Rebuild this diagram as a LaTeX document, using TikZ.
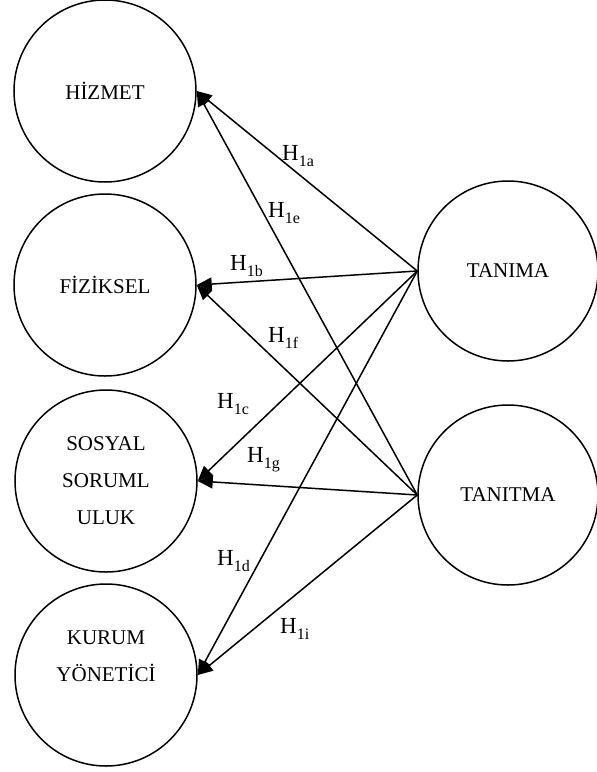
\documentclass[tikz,border=0pt]{standalone}
\usepackage{fontspec}
\setmainfont{Liberation Serif}
\usetikzlibrary{arrows.meta}
\newcommand\hyp[1]{H\raisebox{-0.28em}{\fontsize{16}{16}\selectfont #1}}
\tikzset{
  construct/.style={draw, circle, line width=1.5pt, minimum size=182pt, inner sep=0pt, align=center, font=\fontsize{21}{37}\selectfont},
  arr/.style={line width=1.5pt, -{Triangle[length=15pt,width=13pt]}},
  hlab/.style={anchor=base west, inner sep=0pt, font=\fontsize{23}{23}\selectfont}
}
\begin{document}
\begin{tikzpicture}[x=1pt,y=-1pt]
\useasboundingbox (0,0) rectangle (597,772);
\node[construct] (hizmet) at (105,91) {HİZMET};
\node[construct] (fiziksel) at (105,285) {FİZİKSEL};
\node[construct] (sosyal) at (106,481) {SOSYAL\\SORUML\\ULUK};
\node[construct] (kurum) at (106,675) {KURUM\\YÖNETİCİ\\ };
\node[construct, minimum size=180pt] (tanima) at (508,271) {TANIMA};
\node[construct, minimum size=180pt] (tanitma) at (508,495) {TANITMA};
\draw[arr] (tanima.west) -- (hizmet.east);
\draw[arr] (tanima.west) -- (fiziksel.east);
\draw[arr] (tanima.west) -- (sosyal.east);
\draw[arr] (tanima.west) -- (kurum.east);
\draw[arr] (tanitma.west) -- (hizmet.east);
\draw[arr] (tanitma.west) -- (fiziksel.east);
\draw[arr] (tanitma.west) -- (sosyal.east);
\draw[arr] (tanitma.west) -- (kurum.east);
\node[hlab] (la) at (282,160) {\hyp{1a}};
\node[hlab] (le) at (268,217) {\hyp{1e}};
\node[hlab] (lb) at (230,270) {\hyp{1b}};
\node[hlab] (lf) at (268,342) {\hyp{1f}};
\node[hlab] (lc) at (217,408) {\hyp{1c}};
\node[hlab] (lg) at (247,462) {\hyp{1g}};
\node[hlab] (ld) at (217,565) {\hyp{1d}};
\node[hlab] (li) at (280,633) {\hyp{1i}};
\end{tikzpicture}
\end{document}
